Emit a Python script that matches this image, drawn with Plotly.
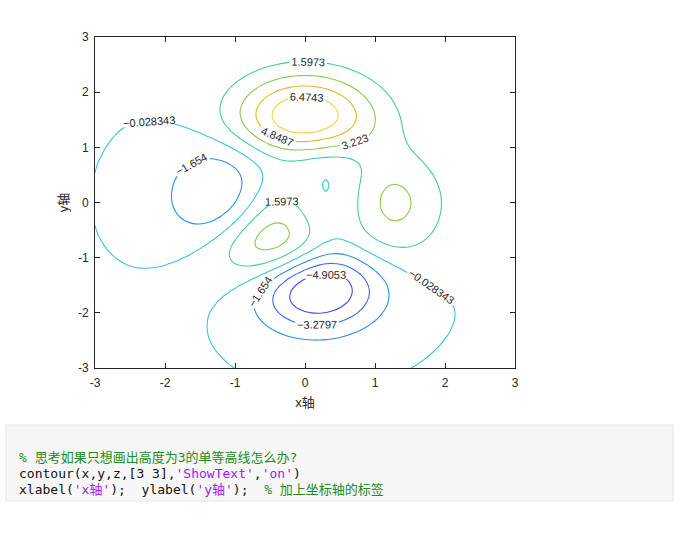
import numpy as np
import plotly.graph_objects as go

# grid (MATLAB peaks sampled on -3:0.1:3)
x_vals = np.round(np.arange(-3, 3.0001, 0.1), 10)
y_vals = np.round(np.arange(-3, 3.0001, 0.1), 10)
X, Y = np.meshgrid(x_vals, y_vals)
z_grid = (3 * (1 - X) ** 2 * np.exp(-X ** 2 - (Y + 1) ** 2)
          - 10 * (X / 5 - X ** 3 - Y ** 5) * np.exp(-X ** 2 - Y ** 2)
          - 1 / 3 * np.exp(-(X + 1) ** 2 - Y ** 2))

# contour levels as shown: -4.9053, -3.2797, -1.654, -0.028343, 1.5973, 3.223, 4.8487, 6.4743
level_start = -4.905343
level_step = 1.6256667
n_levels = 8
level_colors = ["#4a48ee", "#3a6af2", "#2a90ee", "#3cc4e0", "#44cca8", "#88cc48",
                "#e0b828", "#f8d030"]
tick_vals = [-3, -2, -1, 0, 1, 2, 3]
tick_text = ["-3", "-2", "-1", "0", "1", "2", "3"]
x_title = "x轴"
y_title = "y轴"
code_lines = [
    [("% 思考如果只想画出高度为3的单等高线怎么办?", "comment")],
    [("contour(x,y,z,[3 3],", "code"), ("'ShowText'", "str"), (",", "code"),
     ("'on'", "str"), (")", "code")],
    [("xlabel(", "code"), ("'x轴'", "str"), (");  ylabel(", "code"), ("'y轴'", "str"),
     (");  ", "code"), ("% 加上坐标轴的标签", "comment")],
]

level_end = level_start + (n_levels - 1) * level_step
scale = [[i / (n_levels - 1), c] for i, c in enumerate(level_colors)]

fig = go.Figure(go.Contour(
    x=x_vals, y=y_vals, z=z_grid,
    autocontour=False,
    contours=dict(start=level_start, end=level_end + 1e-6, size=level_step,
                  coloring="lines", showlabels=True, labelformat=".5~g",
                  labelfont=dict(size=11, color="#262626", family="Liberation Sans")),
    colorscale=scale, zauto=False, zmin=level_start, zmax=level_end, showscale=False,
    line=dict(width=1.1), hoverinfo="skip",
))

axis_common = dict(range=[-3, 3], tickvals=tick_vals, ticktext=tick_text, ticks="inside", ticklen=5,
                   tickcolor="#262626", showline=True, linecolor="#262626", linewidth=1,
                   mirror="ticks", showgrid=False, zeroline=False,
                   tickfont=dict(size=12, color="#262626", family="Liberation Sans"))
fig.update_xaxes(**axis_common, ticklabelstandoff=4,
                 title=dict(text=x_title, standoff=8,
                            font=dict(size=13, color="#262626", family="Liberation Sans, Noto Sans CJK SC")))
fig.update_yaxes(**axis_common, ticklabelstandoff=3,
                 title=dict(text=y_title, standoff=6,
                            font=dict(size=13, color="#262626", family="Liberation Sans, Noto Sans CJK SC")))

colors = {"comment": "#228b22", "code": "#111111", "str": "#a020f0"}
L, R, T, B = 95, 185, 37, 165
W, H = 700, 533
pw, ph = W - L - R, H - T - B


def px(xp):
    return (xp - L) / pw


def py(yp):
    return (H - B - yp) / ph


shapes = [dict(type="rect", xref="paper", yref="paper", x0=px(6), x1=px(673), y0=py(501), y1=py(425),
               fillcolor="#f7f7f7", line=dict(color="#e6e6e6", width=1), layer="below")]
annotations = []
for i, parts in enumerate(code_lines):
    text = "".join(f"<span style='color:{colors[k]}'>{t.replace(' ', '&nbsp;')}</span>" for t, k in parts)
    annotations.append(dict(xref="paper", yref="paper", x=px(17), y=py(457.5 + 16 * i),
                            xanchor="left", yanchor="middle", showarrow=False, text=text,
                            font=dict(size=13, family="DejaVu Sans Mono, Noto Sans CJK SC")))

fig.update_layout(width=W, height=H, margin=dict(l=L, r=R, t=T, b=B),
                  paper_bgcolor="white", plot_bgcolor="white", showlegend=False,
                  shapes=shapes, annotations=annotations)
fig.write_html("out.html")
